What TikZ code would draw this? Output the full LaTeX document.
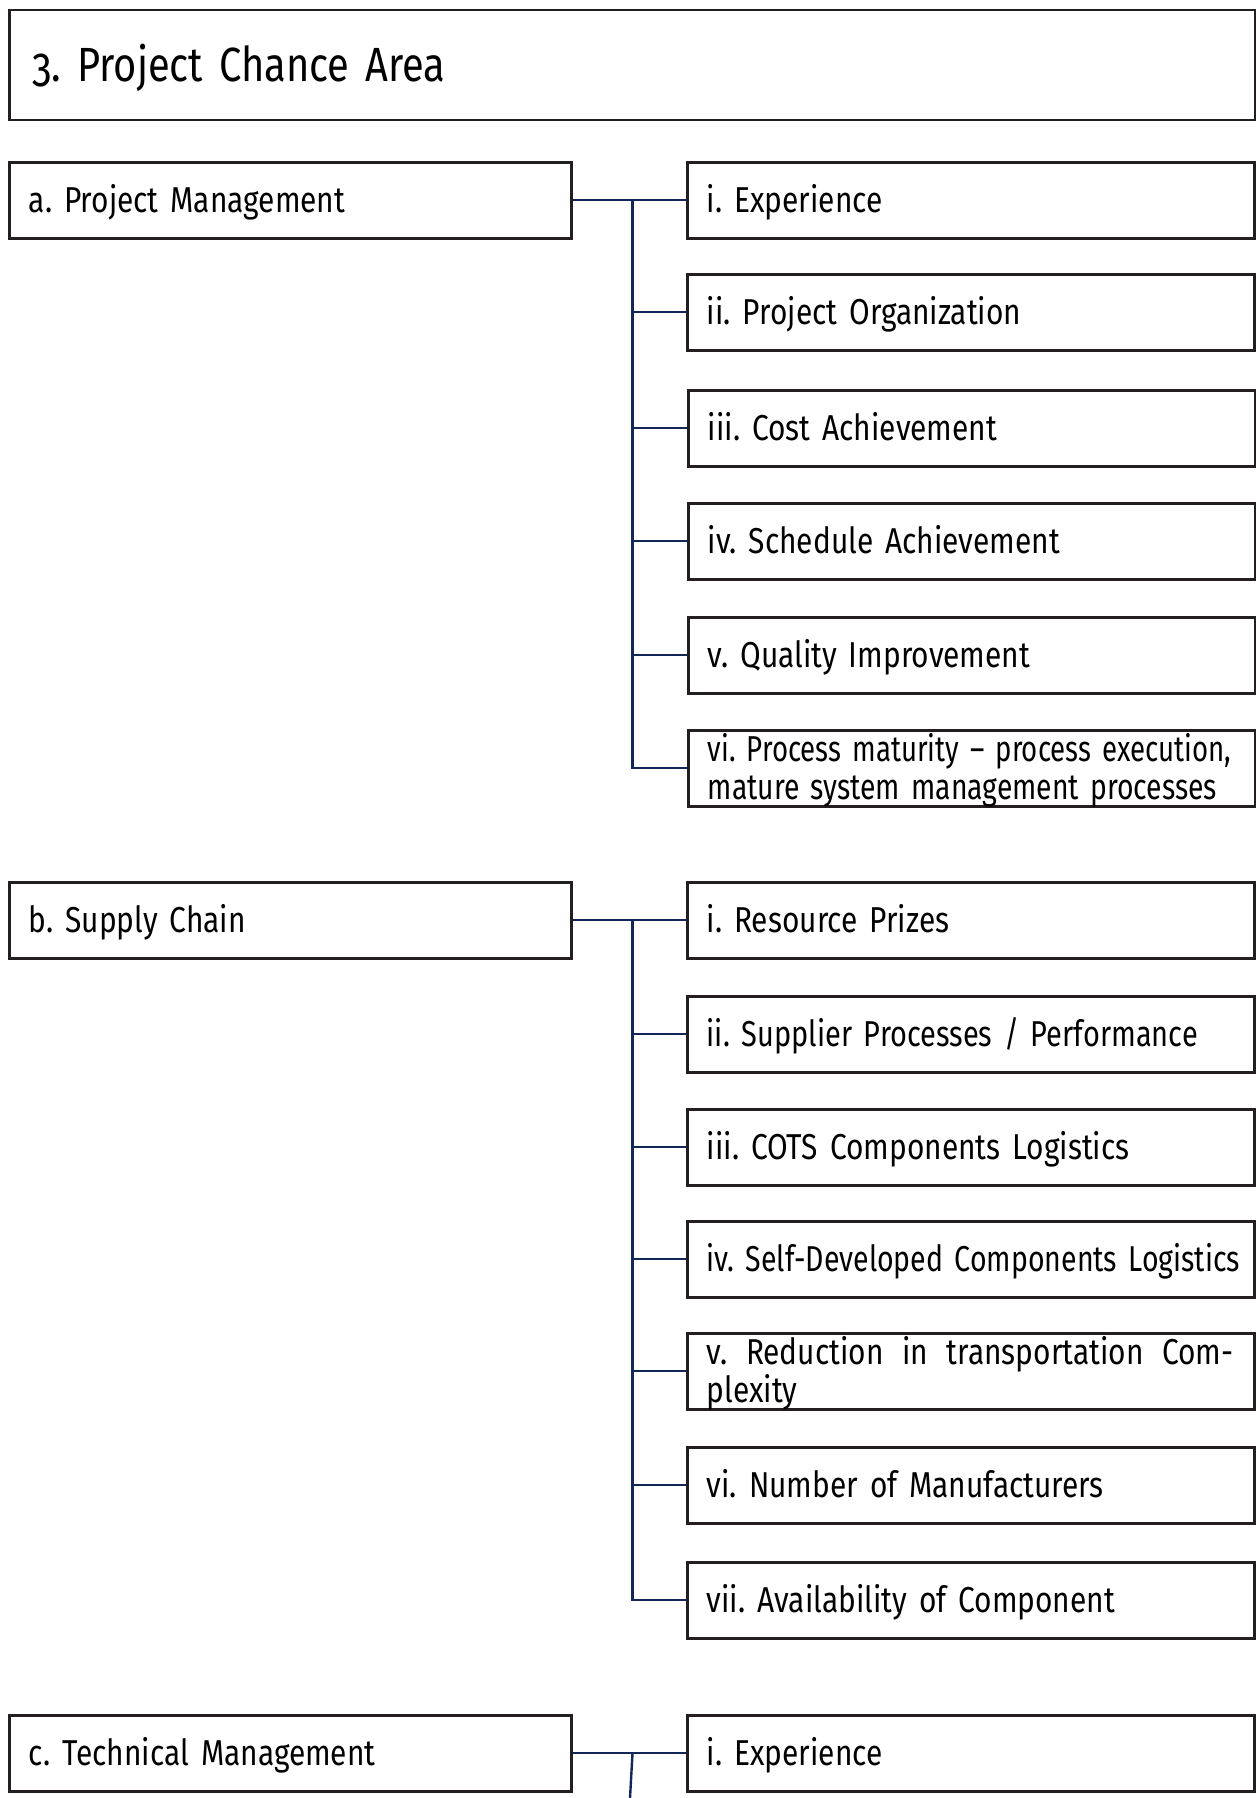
\documentclass[tikz,border=0pt]{standalone}
\usepackage{graphicx}
\usepackage{fontspec}
\setmainfont{Fira Sans}[FakeStretch=0.83,Numbers=OldStyle]
\frenchspacing
\hyphenpenalty=10000
\exhyphenpenalty=10000
\definecolor{linknavy}{RGB}{18,38,88}
\definecolor{framegray}{RGB}{35,31,32}
% set a line of text to a given width, keeping its height
\newcommand{\fitline}[2]{\resizebox{#1}{\height}{#2}}
\begin{document}
\begin{tikzpicture}[x=0.5pt,y=-0.5pt,
  box/.style={draw=framegray,line width=1.25pt,rectangle,anchor=north west,
    inner xsep=9.75pt,inner ysep=0pt,minimum height=38pt,align=left,
    text height=12.5pt,text depth=0pt,font=\fontsize{18pt}{19pt}\selectfont},
  leftbox/.style={box,text width=261.5pt},
  subbox/.style={box,text width=264pt},
  twoline/.style={text depth=19pt},
  link/.style={draw=linknavy,line width=1.2pt}]
\useasboundingbox (0,0) rectangle (1255,1798);

% heading
\node[box,text width=600pt,inner xsep=11.5pt,minimum height=55pt,
      text height=16.5pt,font=\fontsize{24pt}{28pt}\selectfont]
  (head) at (8,9) {3. Project Chance Area};

% a. Project Management
\node[leftbox] (pa) at (8,161) {a. Project Management};
\node[subbox] (pa1) at (686,161)   {i. Experience};
\node[subbox] (pa2) at (686,273)   {ii. Project Organization};
\node[subbox] (pa3) at (687,389)   {iii. Cost Achievement};
\node[subbox] (pa4) at (687,502)   {iv. Schedule Achievement};
\node[subbox] (pa5) at (687,616)   {v. Quality Improvement};
\node[subbox,twoline] (pa6) at (687,729)
  {\fitline{261.6pt}{vi. Process maturity -- process execution,}\\
   \fitline{254.7pt}{mature system management processes}};

\path (pa.east) ++(60,0) coordinate (ja);
\draw[link] (pa.east) -- (pa1.west);
\draw[link] (ja) -- (ja |- pa6.west) -- (pa6.west);
\foreach \k in {2,...,5} \draw[link] (ja |- pa\k.west) -- (pa\k.west);

% b. Supply Chain
\node[leftbox] (sc) at (8,881) {b. Supply Chain};
\node[subbox] (sc1) at (686,881)   {i. Resource Prizes};
\node[subbox] (sc2) at (686,995)   {\fitline{245.5pt}{ii. Supplier Processes / Performance}};
\node[subbox] (sc3) at (686,1108)  {iii. COTS Components Logistics};
\node[subbox] (sc4) at (686,1220)  {\fitline{266.7pt}{iv. Self-Developed Components Logistics}};
\node[subbox,twoline] (sc5) at (686,1332)
  {\makebox[263.3pt]{v.\ \hfill Reduction\ \hfill in\ \hfill transportation\ \hfill Com-}\\plexity};
\node[subbox] (sc6) at (686,1446)  {vi. Number of Manufacturers};
\node[subbox] (sc7) at (686,1561)  {vii. Availability of Component};

\path (sc.east) ++(60,0) coordinate (jb);
\draw[link] (sc.east) -- (sc1.west);
\draw[link] (jb) -- (jb |- sc7.west) -- (sc7.west);
\foreach \k in {2,...,6} \draw[link] (jb |- sc\k.west) -- (sc\k.west);

% c. Technical Management
\node[leftbox] (tm) at (8,1714) {c. Technical Management};
\node[subbox] (tm1) at (686,1714)  {i. Experience};

\path (tm.east) ++(60,0) coordinate (jc);
\coordinate (jcend) at (630,1798);
\draw[link] (tm.east) -- (tm1.west);
\draw[link] (jc) -- (jcend);
\end{tikzpicture}
\end{document}
